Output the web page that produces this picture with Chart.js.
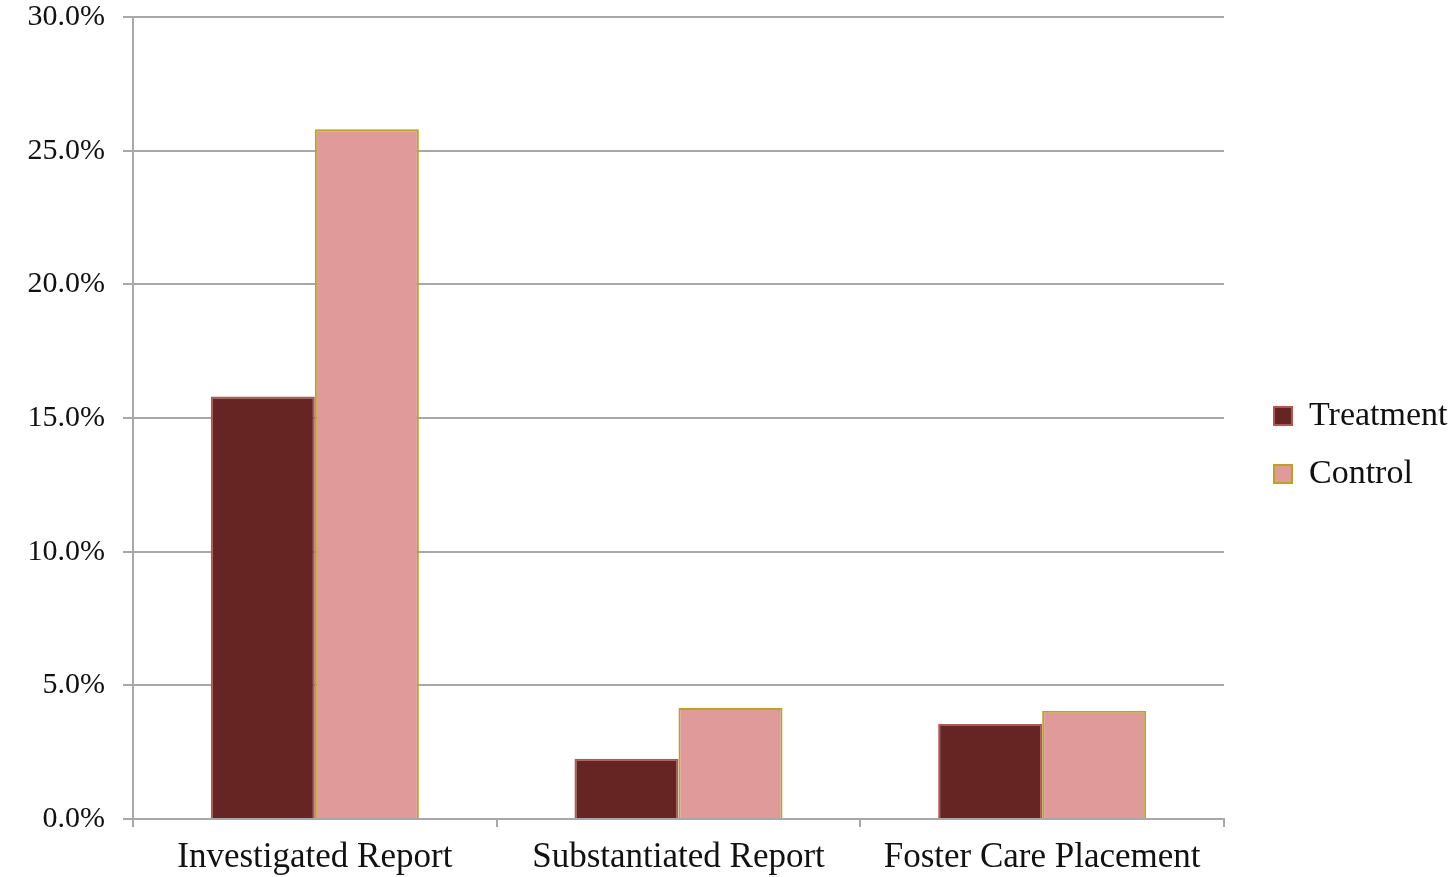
<!DOCTYPE html>
<html>
<head>
<meta charset="utf-8">
<script src="https://cdn.jsdelivr.net/npm/chart.js@4"></script>
<style>
  html, body { margin: 0; padding: 0; background: #fff; }
  #wrap { width: 1455px; height: 877px; }
</style>
</head>
<body>
<div id="wrap"><canvas id="chart" width="1455" height="877"></canvas></div>
<script>
const categories = ['Investigated Report', 'Substantiated Report', 'Foster Care Placement'];
const treatment = [15.8, 2.25, 3.55];
const control = [25.8, 4.15, 4.05];
const yTicks = [0, 5, 10, 15, 20, 25, 30];

const FONT = "'Liberation Serif', 'DejaVu Serif', serif";
const GRID = '#a8a8a8';

// pin the legend box width and nudge it right so the plot ends where the original does
const legendFix = {
  id: 'legendFix',
  beforeLayout(chart) {
    const lg = chart.legend;
    if (lg && !lg._fixed) {
      const fit = lg.fit.bind(lg);
      lg.fit = function () { fit(); this.width = 231; };
      lg._fixed = true;
    }
  },
  afterLayout(chart) {
    if (chart.legend) {
      chart.legend.left += 26;
      chart.legend.top -= 4;
    }
  }
};

new Chart(document.getElementById('chart'), {
  type: 'bar',
  data: {
    labels: categories,
    datasets: [
      {
        label: 'Treatment',
        data: treatment,
        backgroundColor: '#662523',
        borderColor: '#b4554e',
        borderWidth: 2,
        categoryPercentage: 0.572,
        barPercentage: 1
      },
      {
        label: 'Control',
        data: control,
        backgroundColor: '#e09a99',
        borderColor: '#bba321',
        borderWidth: 2,
        categoryPercentage: 0.572,
        barPercentage: 1
      }
    ]
  },
  options: {
    responsive: false,
    animation: false,
    layout: { padding: { top: 17, left: 0, right: 0, bottom: 0 } },
    plugins: {
      tooltip: { enabled: false },
      legend: {
        position: 'right',
        labels: {
          boxWidth: 18,
          boxHeight: 18,
          padding: 24,
          color: '#111',
          font: { family: FONT, size: 34 }
        }
      }
    },
    scales: {
      x: {
        afterFit(scale) { scale.height = 58; scale.paddingLeft = 0; scale.paddingRight = 0; },
        grid: {
          offset: true,
          drawOnChartArea: false,
          drawTicks: true,
          tickLength: 8,
          color: GRID,
          lineWidth: 2
        },
        border: { color: GRID, width: 2 },
        ticks: {
          color: '#111',
          padding: 10,
          maxRotation: 0,
          font: { family: FONT, size: 35 }
        }
      },
      y: {
        min: 0,
        max: 30,
        afterFit(scale) { scale.width = 133; scale.paddingTop = 0; scale.paddingBottom = 0; },
        afterBuildTicks(scale) { scale.ticks = yTicks.map(v => ({ value: v })); },
        grid: {
          color: GRID,
          lineWidth: 2,
          drawTicks: true,
          tickLength: 10
        },
        border: { color: GRID, width: 2 },
        ticks: {
          color: '#111',
          padding: 18,
          font: { family: FONT, size: 30 },
          callback: v => v.toFixed(1) + '%'
        }
      }
    }
  },
  plugins: [legendFix]
});
</script>
</body>
</html>
